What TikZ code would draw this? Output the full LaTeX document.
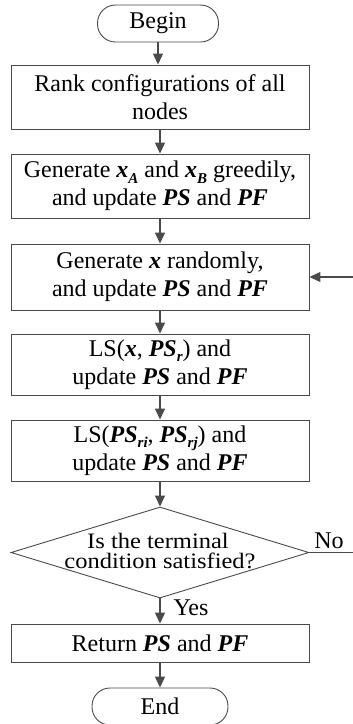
\documentclass[tikz,border=0pt]{standalone}
\usepackage{fontspec}
\setmainfont{Liberation Serif}
\usetikzlibrary{arrows.meta,shapes.geometric}
\definecolor{linegray}{HTML}{4A4A4A}
\newcommand{\bix}[1]{\textbf{\textit{#1}}}
\newcommand{\subx}[1]{\raisebox{-0.22em}{\fontsize{15}{15}\selectfont\bfseries\itshape #1}}
\begin{document}
\begin{tikzpicture}[x=1pt,y=-1pt,
  every node/.style={font=\fontsize{24}{28}\selectfont},
  proc/.style={draw=linegray, line width=0.9pt, minimum width=298pt, inner sep=0pt, align=center},
  term/.style={draw=linegray, line width=0.9pt, rounded corners=18pt, minimum height=37pt, inner sep=0pt},
  flow/.style={draw=linegray, line width=1.2pt, -{Triangle[length=11pt,width=10pt]}},
  conn/.style={draw=linegray, line width=1.2pt},
  dtext/.style={anchor=base, inner sep=0pt, font=\fontsize{24.5}{24}\selectfont},
]
\useasboundingbox (0,0) rectangle (353,724);
\clip (0,0) rectangle (353,724);
\node[term, minimum width=121pt] (begin) at (158,23.5) {Begin};
\node[proc, minimum height=64pt] (box1) at (160,97) {Rank configurations of all\\nodes};
\node[proc, minimum height=64pt] (box2) at (160,186) {Generate \bix{x}\subx{A} and \bix{x}\subx{B} greedily,\\and update \bix{PS} and \bix{PF}};
\node[proc, minimum height=66pt] (box3) at (160,277) {Generate \bix{x} randomly,\\and update \bix{PS} and \bix{PF}};
\node[proc, minimum height=61pt] (box4) at (160,364.5) {LS(\bix{x}, \bix{PS}\subx{r}) and\\update \bix{PS} and \bix{PF}};
\node[proc, minimum height=61pt] (box5) at (160,450.5) {LS(\bix{PS}\subx{ri}, \bix{PS}\subx{rj}) and\\update \bix{PS} and \bix{PF}};
\node[diamond, draw=linegray, line width=0.9pt, minimum width=298pt, minimum height=91pt, inner sep=0pt] (dec) at (160,552.5) {};
\node[dtext] (dec1) at (158,548) {\scalebox{1}[0.9]{Is the terminal}};
\node[dtext] (dec2) at (160,568) {\scalebox{1}[0.9]{condition satisfied?}};
\node[proc, minimum height=38pt] (box6) at (160,643) {Return \bix{PS} and \bix{PF}};
\node[term, minimum width=136pt] (end) at (160,706.5) {End};
\node[anchor=base] (nolabel) at (329,548) {No};
\node[anchor=base west] (yeslabel) at (170,615) {Yes};
\coordinate (loopa) at (365,552.5);
\coordinate (loopb) at (365,277);
\draw[flow] (begin.south) -- (begin.south |- box1.north);
\draw[flow] (box1) -- (box2);
\draw[flow] (box2) -- (box3);
\draw[flow] (box3) -- (box4);
\draw[flow] (box4) -- (box5);
\draw[flow] (box5) -- (dec);
\draw[flow] (dec) -- (box6);
\draw[flow] (box6) -- (end);
\draw[conn] (dec.east) -- (loopa) -- (loopb);
\draw[flow] (loopb) -- (box3.east);
\end{tikzpicture}
\end{document}
